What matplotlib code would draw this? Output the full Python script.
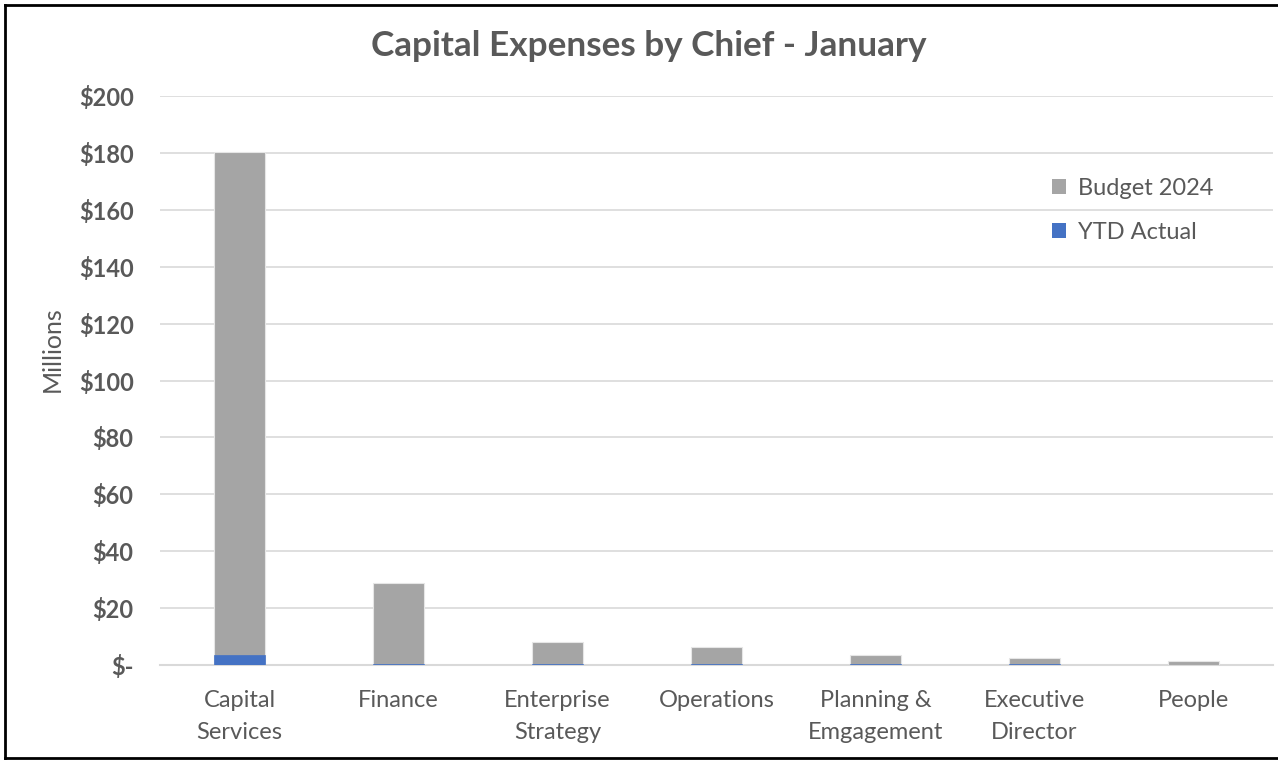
import matplotlib
matplotlib.use("Agg")
import matplotlib.pyplot as plt
from matplotlib.patches import Patch
from matplotlib.lines import Line2D
import numpy as np

categories = ["Capital\nServices", "Finance", "Enterprise\nStrategy", "Operations",
              "Planning &\nEmgagement", "Executive\nDirector", "People"]
budget_2024 = [180.3, 28.8, 8.1, 6.3, 3.5, 2.5, 1.4]
ytd_actual = [3.5, 0.4, 0.3, 0.3, 0.3, 0.3, 0.1]
yticks = [0, 20, 40, 60, 80, 100, 120, 140, 160, 180, 200]
ytick_labels = ["$-", "$20", "$40", "$60", "$80", "$100", "$120", "$140", "$160", "$180", "$200"]

plt.rcParams['font.family'] = ['Lato', 'DejaVu Sans']
text_col = "#595959"

fig = plt.figure(figsize=(12.78, 7.61), dpi=100)
ax = fig.add_axes([160/1278, 1-665/761, (1273-160)/1278, (665-96)/761])

x = np.arange(len(categories))
w = 0.315
ax.bar(x, budget_2024, width=w, color="#A5A5A5", edgecolor="#E6E6E6", linewidth=0.8,
       zorder=2, label="Budget 2024")
ax.bar(x, ytd_actual, width=w, color="#4472C4", edgecolor="#4472C4", linewidth=0.5,
       zorder=3, label="YTD Actual")

ax.set_xlim(-0.5, len(categories) - 0.5)
ax.set_ylim(0, 200)
ax.set_yticks(yticks)
ax.set_yticklabels(ytick_labels, fontsize=17, fontweight="bold", color=text_col)
ax.set_xticks(x)
ax.set_xticklabels(categories, fontsize=17, color=text_col, linespacing=1.62)
ax.tick_params(axis="both", length=0)
ax.tick_params(axis="y", pad=19)
ax.tick_params(axis="x", pad=18)
ax.grid(axis="y", color="#D9D9D9", linewidth=1.2, zorder=0)
ax.set_axisbelow(True)
for s in ["top", "right", "left"]:
    ax.spines[s].set_visible(False)
ax.spines["bottom"].set_color("#D9D9D9")
ax.spines["bottom"].set_linewidth(1.5)
ax.spines["bottom"].set_zorder(1)

ax.set_ylabel("Millions", fontsize=18, color=text_col)
ax.yaxis.set_label_coords(-(160-64)/1113, (665-349)/569)

fig.text(649/1278, 1-46/761, "Capital Expenses by Chief - January", fontsize=25.3,
         fontweight="bold", color=text_col, ha="center", va="center")

handles = [Patch(facecolor="#A5A5A5", edgecolor="none"),
           Patch(facecolor="#4472C4", edgecolor="none")]
leg = ax.legend(handles, ["Budget 2024", "YTD Actual"], loc="upper left",
                bbox_to_anchor=((1031-160)/1113, (665-157)/569), frameon=False,
                fontsize=17, labelcolor=text_col, handlelength=0.6, handleheight=0.6,
                handletextpad=0.5, labelspacing=0.95)

# figure border (left, top, bottom)
fig.add_artist(Line2D([5/1278, 5/1278], [1-5/761, 1-758/761], color="black", lw=2, transform=fig.transFigure))
fig.add_artist(Line2D([5/1278, 1], [1-5/761, 1-5/761], color="black", lw=2, transform=fig.transFigure))
fig.add_artist(Line2D([5/1278, 1], [1-758/761, 1-758/761], color="black", lw=2, transform=fig.transFigure))

fig.savefig("out.png", dpi=100)
